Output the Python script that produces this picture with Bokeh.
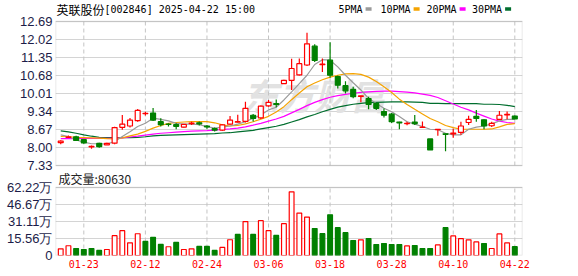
from bokeh.plotting import figure
from bokeh.models import (Range1d, FixedTicker, Label, BoxAnnotation,
                          CustomJSTickFormatter, ColumnDataSource)
from bokeh.core.properties import value
from bokeh.embed import file_html
from bokeh.resources import INLINE

# ---------------- data ----------------
stock_name = "英联股份"
stock_info = "[002846] 2025-04-22 15:00"
volume_title = "成交量:80630"

dates = ["01-20", "01-21", "01-22", "01-23", "01-24", "01-27",
         "02-05", "02-06", "02-07", "02-10", "02-11", "02-12", "02-13", "02-14",
         "02-17", "02-18", "02-19", "02-20", "02-21", "02-24", "02-25", "02-26",
         "02-27", "02-28",
         "03-03", "03-04", "03-05", "03-06", "03-07", "03-10", "03-11", "03-12",
         "03-13", "03-14", "03-17", "03-18", "03-19", "03-20", "03-21", "03-24",
         "03-25", "03-26", "03-27", "03-28", "03-31",
         "04-01", "04-02", "04-03", "04-07", "04-08", "04-09", "04-10", "04-11",
         "04-14", "04-15", "04-16", "04-17", "04-18", "04-21", "04-22"]

opens = [8.18, 8.38, 8.40, 8.29, 8.02, 8.15, 8.10, 8.16, 8.75, 8.80,
         9.00, 9.26, 9.28, 8.96, 8.87, 8.85, 8.76, 8.89, 8.92, 8.80,
         8.70, 8.65, 8.87, 8.94, 8.97, 9.20, 9.10, 9.55, 9.63, 10.38,
         10.50, 10.70, 11.07, 11.77, 11.08, 11.25, 10.64, 10.30, 10.16, 9.90,
         9.82, 9.64, 9.34, 9.24, 8.95, 8.89, 8.95, 8.75, 8.32, 8.66,
         8.51, 8.51, 8.56, 8.93, 9.16, 9.03, 8.81, 9.05, 9.21, 9.17]
highs = [8.27, 8.45, 8.44, 8.32, 8.07, 8.18, 8.18, 8.77, 9.21, 9.10,
         9.43, 9.33, 9.47, 9.09, 8.90, 8.90, 8.87, 8.96, 8.97, 8.84,
         8.74, 8.86, 9.17, 9.22, 9.70, 9.25, 9.56, 9.77, 9.79, 10.52,
         11.30, 11.31, 12.27, 11.84, 11.31, 11.92, 10.68, 10.47, 10.26, 9.93,
         9.89, 9.66, 9.45, 9.28, 8.96, 8.96, 9.21, 8.97, 8.32, 8.69,
         8.52, 8.70, 8.96, 9.18, 9.40, 9.05, 8.96, 9.36, 9.34, 9.19]
lows = [8.12, 8.35, 8.24, 8.14, 7.95, 7.99, 8.09, 8.12, 8.66, 8.74,
        8.96, 9.19, 8.99, 8.78, 8.78, 8.68, 8.74, 8.84, 8.82, 8.70,
        8.60, 8.62, 8.85, 8.92, 8.93, 8.97, 9.06, 9.52, 9.50, 10.36,
        10.14, 10.68, 11.03, 11.18, 10.81, 10.60, 10.20, 10.01, 9.83, 9.68,
        9.42, 9.40, 9.12, 8.91, 8.68, 8.83, 8.84, 8.74, 7.91, 8.44,
        7.86, 8.36, 8.47, 8.84, 8.96, 8.68, 8.76, 9.03, 9.05, 9.05]
closes = [8.24, 8.40, 8.26, 8.17, 8.04, 8.03, 8.15, 8.74, 8.87, 9.02,
          9.38, 9.27, 9.02, 8.85, 8.86, 8.79, 8.86, 8.91, 8.88, 8.77,
          8.65, 8.84, 9.02, 8.96, 9.46, 9.08, 9.54, 9.68, 9.60, 10.50,
          10.94, 11.12, 11.86, 11.24, 11.10, 10.69, 10.32, 10.11, 9.89, 9.92,
          9.60, 9.46, 9.20, 8.96, 8.92, 8.90, 8.89, 8.76, 7.91, 8.68,
          8.49, 8.54, 8.80, 9.05, 9.08, 8.80, 8.90, 9.20, 9.23, 9.06]

ma5 = [8.47, 8.41, 8.28, 8.20, 8.14, 8.14, 8.13, 8.22, 8.41, 8.59,
       8.78, 8.90, 9.09, 9.05, 8.99, 8.90, 8.87, 8.87, 8.85, 8.78,
       8.72, 8.76, 8.80, 8.87, 8.96, 9.09, 9.21, 9.40, 9.50, 9.77,
       10.07, 10.38, 10.69, 11.09, 11.27, 11.25, 11.00, 10.69, 10.41, 10.14,
       9.83, 9.64, 9.46, 9.33, 9.15, 8.96, 8.87, 8.78, 8.68, 8.66,
       8.53, 8.47, 8.47, 8.68, 8.76, 8.80, 8.88, 8.99, 9.05, 9.05]
ma10 = [8.41, 8.40, 8.38, 8.37, 8.36, 8.35, 8.33, 8.32, 8.36, 8.43,
        8.50, 8.60, 8.72, 8.82, 8.90, 8.93, 8.95, 8.96, 8.96, 8.96,
        8.92, 8.84, 8.80, 8.82, 8.88, 8.96, 9.05, 9.16, 9.32, 9.52,
        9.78, 10.03, 10.26, 10.40, 10.52, 10.62, 10.69, 10.74, 10.75, 10.72,
        10.62, 10.46, 10.26, 10.05, 9.80, 9.60, 9.42, 9.25, 9.08, 8.96,
        8.82, 8.74, 8.68, 8.68, 8.68, 8.68, 8.69, 8.77, 8.86, 8.89]
ma20 = [8.33, 8.33, 8.33, 8.34, 8.34, 8.34, 8.34, 8.34, 8.36, 8.39,
        8.42, 8.46, 8.50, 8.53, 8.55, 8.57, 8.59, 8.61, 8.62, 8.63,
        8.65, 8.67, 8.69, 8.72, 8.77, 8.83, 8.90, 8.98, 9.06, 9.16,
        9.29, 9.42, 9.56, 9.68, 9.78, 9.87, 9.93, 9.98, 10.02, 10.05,
        10.07, 10.09, 10.10, 10.10, 10.08, 10.06, 10.03, 9.99, 9.94, 9.86,
        9.74, 9.62, 9.50, 9.40, 9.28, 9.17, 9.06, 8.98, 8.93, 8.90]
ma30 = [8.62, 8.58, 8.53, 8.47, 8.42, 8.38, 8.37, 8.37, 8.37, 8.37,
        8.38, 8.40, 8.43, 8.45, 8.46, 8.47, 8.48, 8.49, 8.50, 8.51,
        8.52, 8.54, 8.55, 8.58, 8.61, 8.64, 8.69, 8.74, 8.79, 8.86,
        8.95, 9.04, 9.14, 9.23, 9.33, 9.42, 9.50, 9.56, 9.61, 9.64,
        9.67, 9.68, 9.69, 9.70, 9.70, 9.70, 9.69, 9.68, 9.64, 9.64,
        9.63, 9.63, 9.63, 9.63, 9.63, 9.61, 9.61, 9.60, 9.57, 9.52]

# volume in units of 万 (10,000 shares)
volumes = [6.1, 8.9, 6.4, 5.5, 6.4, 4.6, 5.5, 18.1, 22.7, 11.6,
           19.9, 12.9, 16.6, 10.1, 8.0, 12.0, 5.5, 6.1, 8.3, 8.3,
           4.6, 7.4, 14.4, 19.3, 31.0, 19.3, 31.9, 22.7, 18.4, 29.1,
           58.3, 38.8, 35.2, 24.6, 20.0, 37.3, 25.5, 20.9, 13.7, 14.3,
           15.5, 10.0, 10.9, 10.0, 10.0, 8.8, 9.1, 6.4, 6.4, 9.7,
           25.5, 17.9, 15.5, 14.3, 12.4, 10.9, 6.4, 19.7, 11.5, 8.063]
# 1 = volume bar drawn as up (red), 0 = down (green)
volume_up = [1, 1, 0, 0, 0, 0, 1, 1, 1, 1,
             1, 0, 0, 0, 1, 0, 1, 1, 0, 0,
             0, 1, 1, 0, 1, 0, 1, 1, 0, 1,
             1, 1, 1, 0, 0, 0, 0, 0, 0, 1,
             0, 0, 0, 0, 0, 1, 0, 0, 0, 1,
             0, 1, 1, 1, 1, 0, 1, 1, 1, 0]

price_ticks = [7.33, 8.00, 8.67, 9.34, 10.01, 10.68, 11.35, 12.02, 12.69]
volume_ticks = [0, 15.56, 31.11, 46.67, 62.22]
date_tick_labels = ["01-23", "02-12", "02-24", "03-06", "03-18", "03-28", "04-10", "04-22"]

ma_names = ["5PMA", "10PMA", "20PMA", "30PMA"]

# ---------------- styles / layout ----------------
RED = "#ff0000"
GREEN = "#008000"
MA_COLORS = ["#9a9a9a", "#f5a300", "#ff00ff", "#006e2e"]
AXIS_TEXT = "#1c1c48"
GRID = "#d4d4d4"
VGRID = "#c4c4c4"
OUTLINE = "#a0a0a0"
W, H = 578, 276
LEFT, RIGHT = 55, 522           # frame edges in canvas pixels
P_TOP, P_BOTTOM = 21, 165       # price box (canvas px)
V_TOP, V_BOTTOM = 187, 255      # volume box (canvas px)

n = len(dates)
idx = list(range(n))
date_ticks = [dates.index(d) for d in date_tick_labels]

p_lo, p_hi = price_ticks[0], price_ticks[-1]
v_lo, v_hi = volume_ticks[0], volume_ticks[-1]
p_per_px = (p_hi - p_lo) / (P_BOTTOM - P_TOP)
v_per_px = (v_hi - v_lo) / (V_BOTTOM - V_TOP)

# one frame (canvas y 0..V_BOTTOM) holding both panels, each with its own scale
price_range = Range1d(p_hi - (V_BOTTOM - P_TOP) * p_per_px, p_hi + P_TOP * p_per_px)
vol_range = Range1d(v_lo, v_lo + V_BOTTOM * v_per_px)


def vol_on_price_scale(t):
    c = V_BOTTOM - (t - v_lo) / v_per_px
    return p_hi - (c - P_TOP) * p_per_px


left_ticks = price_ticks + [vol_on_price_scale(t) for t in volume_ticks]

is_up = [c >= o for o, c in zip(opens, closes)]
candle_src = ColumnDataSource(dict(
    x=idx,
    high=highs, low=lows,
    top=[max(o, c) for o, c in zip(opens, closes)],
    bottom=[min(o, c) for o, c in zip(opens, closes)],
    line=[RED if u else GREEN for u in is_up],
    fill=["white" if u else GREEN for u in is_up],
))
vol_src = ColumnDataSource(dict(
    x=idx, vol=volumes,
    line=[RED if u else GREEN for u in volume_up],
    fill=["white" if u else GREEN for u in volume_up],
))

p = figure(width=W, height=H, x_range=Range1d(-0.68, 60.0), y_range=price_range,
           toolbar_location=None, output_backend="svg",
           min_border_left=LEFT, min_border_right=W - RIGHT,
           min_border_top=0, min_border_bottom=H - V_BOTTOM)
p.background_fill_color = "white"
p.border_fill_color = "white"
p.outline_line_color = None
p.extra_y_ranges = {"vol": vol_range, "py": Range1d(V_BOTTOM, 0)}
p.extra_x_ranges = {"px": Range1d(LEFT, RIGHT)}

# left axis: price labels on the price scale, volume labels mapped back from it
p.yaxis.ticker = FixedTicker(ticks=left_ticks)
p.yaxis.formatter = CustomJSTickFormatter(
    args=dict(p_lo=p_lo, p_hi=p_hi, p_per_px=p_per_px, v_lo=v_lo, v_per_px=v_per_px,
              P_TOP=P_TOP, V_BOTTOM=V_BOTTOM),
    code="""
    if (tick > p_lo - 1e-6) { return tick.toFixed(2); }
    const c = P_TOP + (p_hi - tick) / p_per_px;
    const v = v_lo + (V_BOTTOM - c) * v_per_px;
    return Math.abs(v) < 0.005 ? '0' : v.toFixed(2) + '万';
    """)
p.ygrid.ticker = FixedTicker(ticks=left_ticks)
p.ygrid.grid_line_color = GRID
p.xgrid.visible = False
p.xaxis.ticker = FixedTicker(ticks=date_ticks)
p.xaxis.major_label_overrides = {i: dates[i] for i in date_ticks}


def style_axis(ax, font, size, color, standoff):
    ax.axis_line_color = None
    ax.major_tick_line_color = None
    ax.minor_tick_line_color = None
    ax.major_tick_out = 0
    ax.major_tick_in = 0
    ax.major_label_standoff = standoff
    ax.major_label_text_font = font
    ax.major_label_text_font_size = size
    ax.major_label_text_color = color


for ax in p.yaxis:
    style_axis(ax, "Liberation Sans", "13px", AXIS_TEXT, 3)
for ax in p.xaxis:
    style_axis(ax, "DejaVu Sans Mono", "10px", RED, 4)

# vertical dashed date lines, inside each box
p.segment(x0=date_ticks, y0=p_lo, x1=date_ticks, y1=p_hi,
          line_color=VGRID, line_dash="4 3", line_width=1)
p.segment(x0=date_ticks, y0=v_lo, x1=date_ticks, y1=v_hi,
          line_color=VGRID, line_dash="4 3", line_width=1, y_range_name="vol")

# watermark
p.add_layout(Label(x=187, y=V_BOTTOM - 93, x_units="screen", y_units="screen", text="东方财富",
                   text_font="Noto Sans CJK SC", text_font_size="36px",
                   text_font_style="bold italic", text_color="#e2e2e2",
                   text_baseline="middle", level="underlay"))

# moving averages
for vals, col in zip([ma30, ma20, ma10, ma5], MA_COLORS[::-1]):
    p.line(idx, vals, line_color=col, line_width=1.2)

# candles
p.segment(x0="x", y0="high", x1="x", y1="low", line_color="line", line_width=1.2,
          source=candle_src)
p.vbar(x="x", top="top", bottom="bottom", width=0.64, fill_color="fill",
       line_color="line", line_width=1.2, source=candle_src)

# volume bars
p.vbar(x="x", top="vol", bottom=0, width=0.62, fill_color="fill",
       line_color="line", line_width=1.2, source=vol_src, y_range_name="vol")

# panel boxes
p.add_layout(BoxAnnotation(bottom=p_lo, top=p_hi, fill_color=None,
                           line_color=OUTLINE, line_width=1.5))
p.add_layout(BoxAnnotation(bottom=v_lo, top=v_hi, fill_color=None, y_range_name="vol",
                           line_color=OUTLINE, line_width=1.5))

# header row and volume title (canvas pixel coordinates)
p.text(x=[56], y=[9], text=[stock_name], text_font=value("Noto Sans CJK SC"),
       text_font_size="12px", text_color="black", text_baseline="middle",
       x_range_name="px", y_range_name="py")
p.text(x=[104], y=[9], text=[stock_info], text_font=value("DejaVu Sans Mono"),
       text_font_size="10px", text_color="black", text_baseline="middle",
       x_range_name="px", y_range_name="py")
legend_left = [338, 380, 426, 471.5]
p.text(x=legend_left, y=[9] * 4, text=ma_names, text_font=value("DejaVu Sans Mono"),
       text_font_size="10px", text_color="black", text_baseline="middle",
       x_range_name="px", y_range_name="py")
sw_left = [lx + 6.02 * len(nm) + 3 for lx, nm in zip(legend_left, ma_names)]
p.quad(left=sw_left, right=[s + 6 for s in sw_left], top=[6.8] * 4, bottom=[10.2] * 4,
       fill_color=MA_COLORS, line_color=None, x_range_name="px", y_range_name="py")
p.text(x=[58], y=[177.5], text=[volume_title], text_font=value("Noto Sans CJK SC"),
       text_font_size="12px", text_color="#222222", text_baseline="middle",
       x_range_name="px", y_range_name="py")

open("out.html", "w", encoding="utf-8").write(file_html(p, INLINE))
